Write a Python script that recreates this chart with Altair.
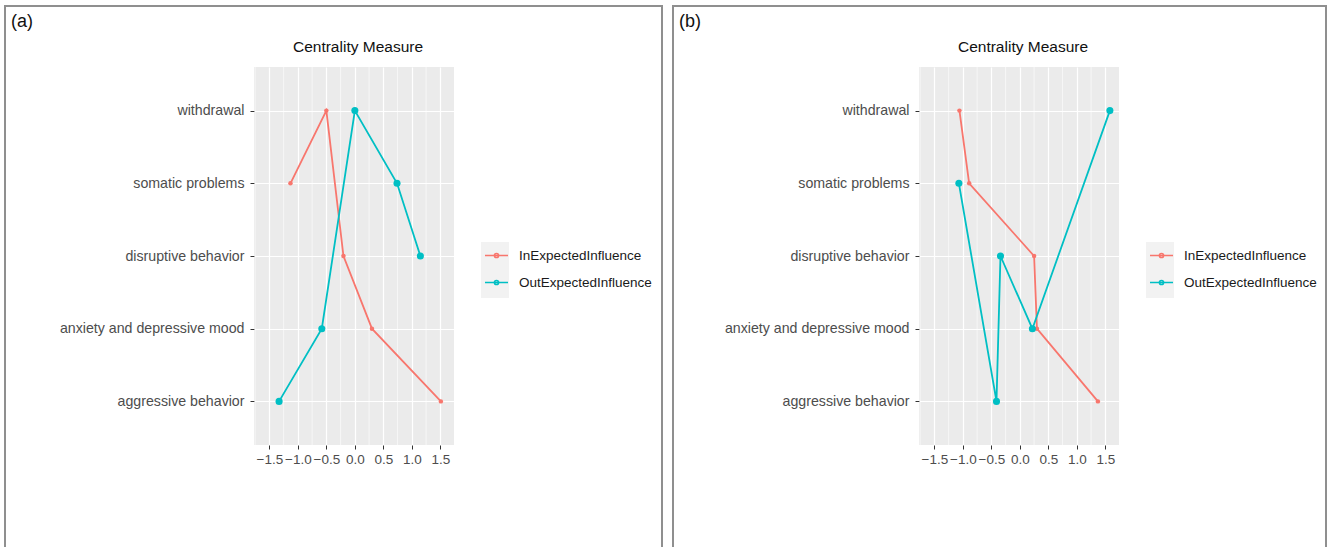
import altair as alt
import pandas as pd

# ---- data ----
nodes = ["withdrawal", "somatic problems", "disruptive behavior",
         "anxiety and depressive mood", "aggressive behavior"]
series = ["InExpectedInfluence", "OutExpectedInfluence"]
colors = ["#F8766D", "#00BFC4"]

a_in = [-0.50, -1.13, -0.20, 0.30, 1.51]
a_out = [0.00, 0.74, 1.15, -0.58, -1.33]
b_in = [-1.06, -0.89, 0.25, 0.30, 1.37]
b_out = [1.58, -1.07, -0.34, 0.22, -0.41]

x_ticks = [-1.5, -1.0, -0.5, 0.0, 0.5, 1.0, 1.5]
x_minor = [-1.75, -1.25, -0.75, -0.25, 0.25, 0.75, 1.25]
panel_labels = ["(a)", "(b)"]
title_text = "Centrality Measure"

FONT = "Liberation Sans"
LEGEND_SYMBOL = "M-1,0L1,0M-0.18,0A0.18,0.18,0,1,0,0.18,0A0.18,0.18,0,1,0,-0.18,0Z"


def panel(in_vals, out_vals, label, frame_left, frame_right):
    df = pd.DataFrame({
        "node": nodes * 2,
        "series": [series[0]] * len(nodes) + [series[1]] * len(nodes),
        "value": in_vals + out_vals,
    })
    minor = pd.DataFrame({"m": x_minor})
    one = pd.DataFrame({"k": [0]})

    xscale = alt.Scale(domain=[-1.77, 1.74], nice=False, zero=False)
    xaxis = alt.Axis(values=x_ticks, format=".1f", title=None, grid=True,
                     gridColor="white", gridWidth=1.2, domain=False,
                     tickColor="#333333", tickSize=4, labelPadding=3,
                     labelColor="#4D4D4D", labelFontSize=13.5, labelFont=FONT)
    yscale = alt.Scale(domain=nodes, padding=0.6)
    yaxis = alt.Axis(title=None, grid=True, gridColor="white", gridWidth=1.2,
                     domain=False, tickColor="#333333", tickSize=4,
                     labelPadding=6, labelColor="#4D4D4D", labelFontSize=14.2,
                     labelFont=FONT, labelLimit=400)
    cscale = alt.Scale(domain=series, range=colors)
    legend = alt.Legend(title=None, orient="none", legendX=230, legendY=176,
                        symbolType=LEGEND_SYMBOL, symbolSize=529,
                        symbolStrokeWidth=1.6, rowPadding=8, labelOffset=10,
                        labelFontSize=13.5, labelFont=FONT, labelColor="#1A1A1A",
                        padding=0)

    x = alt.X("value:Q", scale=xscale, axis=xaxis)
    y = alt.Y("node:N", scale=yscale, axis=yaxis, sort=nodes)

    grid_minor = alt.Chart(minor).mark_rule(color="white", strokeWidth=0.6).encode(
        x=alt.X("m:Q", scale=xscale, axis=xaxis)
    )
    keybg = alt.Chart(one).mark_rect(color="#F2F2F2").encode(
        x=alt.value(227), x2=alt.value(255), y=alt.value(175), y2=alt.value(231)
    )
    lines = alt.Chart(df).mark_line(strokeWidth=1.8).encode(
        x=x, y=y,
        color=alt.Color("series:N", scale=cscale, legend=legend),
        order=alt.Order("value:Q"),
    )
    pts_in = alt.Chart(df).transform_filter(
        alt.datum.series == series[0]
    ).mark_circle(opacity=1, size=20).encode(
        x=x, y=y, fill=alt.Fill("series:N", scale=cscale, legend=None),
    )
    pts_out = alt.Chart(df).transform_filter(
        alt.datum.series == series[1]
    ).mark_circle(opacity=1, size=50).encode(
        x=x, y=y, fill=alt.Fill("series:N", scale=cscale, legend=None),
    )
    frame_style = dict(color="#8F8F8F", strokeWidth=2)
    f_left = alt.Chart(one).mark_rule(**frame_style).encode(
        x=alt.value(frame_left), y=alt.value(-61), y2=alt.value(480))
    f_right = alt.Chart(one).mark_rule(**frame_style).encode(
        x=alt.value(frame_right), y=alt.value(-61), y2=alt.value(480))
    f_top = alt.Chart(one).mark_rule(**frame_style).encode(
        x=alt.value(frame_left - 1), x2=alt.value(frame_right + 1), y=alt.value(-61))
    lab = alt.Chart(one).mark_text(align="left", baseline="middle", fontSize=18,
                                   font=FONT, color="#111111").encode(
        x=alt.value(frame_left + 6), y=alt.value(-45), text=alt.value(label))
    ttl = alt.Chart(one).mark_text(align="center", baseline="middle", fontSize=15.5,
                                   font=FONT, color="#111111").encode(
        x=alt.value(104), y=alt.value(-20), text=alt.value(title_text))

    return alt.layer(grid_minor, keybg, lines, pts_in, pts_out, f_left, f_right,
                     f_top, lab, ttl).properties(width=200, height=378)


chart_a = panel(a_in, a_out, panel_labels[0], -249, 408)
chart_b = panel(b_in, b_out, panel_labels[1], -246, 407)

chart = alt.hconcat(chart_a, chart_b, spacing=7).resolve_legend(
    color="independent"
).properties(
    padding={"left": 3, "top": 5, "right": 0, "bottom": 0},
    background="white",
).configure_view(fill="#EBEBEB", strokeWidth=0)

chart.save("out.html", embed_options={"renderer": "svg", "actions": False})
